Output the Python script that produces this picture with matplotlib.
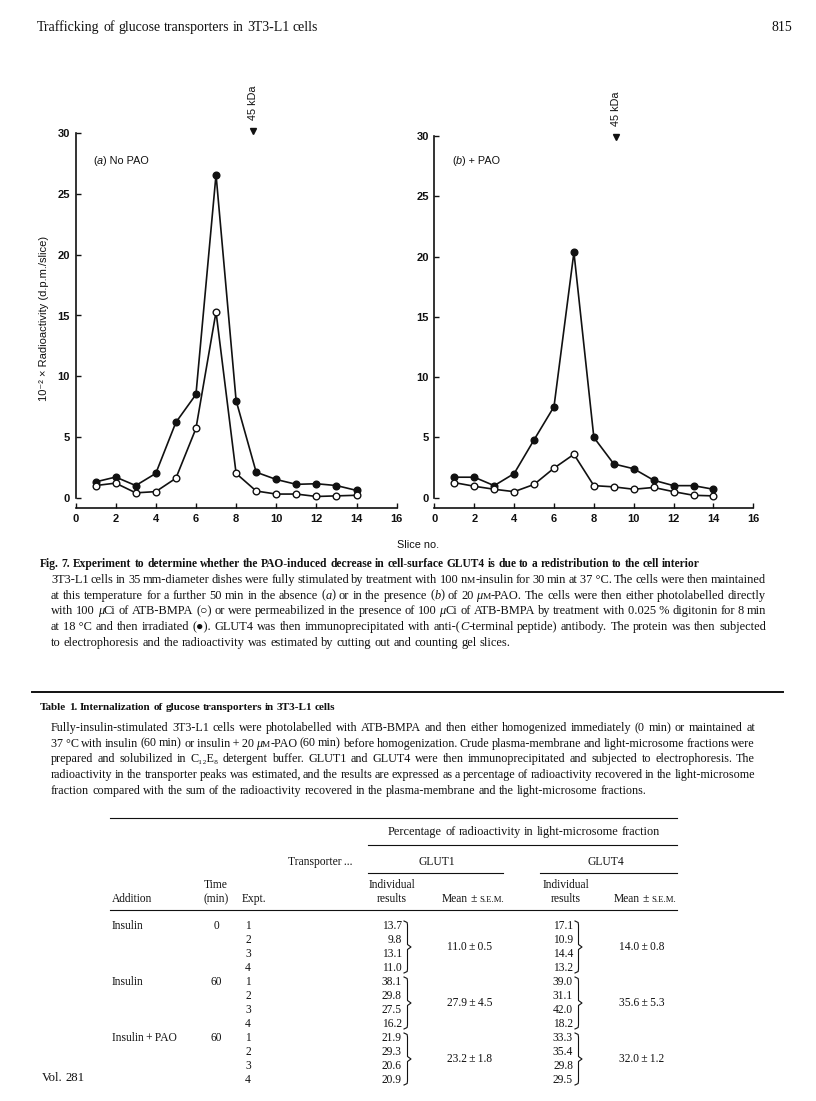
import matplotlib
matplotlib.use('Agg')
import matplotlib.pyplot as plt
from matplotlib.lines import Line2D

# ---------------- data ----------------
slices = list(range(1, 15))
a_permeabilized = [1.3, 1.7, 1.0, 2.0, 6.2, 8.5, 26.6, 8.0, 2.1, 1.5, 1.1, 1.15, 1.0, 0.6]
a_direct = [1.0, 1.2, 0.4, 0.5, 1.6, 5.7, 15.3, 2.0, 0.55, 0.3, 0.3, 0.1, 0.15, 0.2]
b_permeabilized = [1.7, 1.7, 1.0, 2.0, 4.8, 7.55, 20.35, 5.0, 2.8, 2.4, 1.45, 1.0, 1.0, 0.7]
b_direct = [1.25, 0.95, 0.7, 0.5, 1.1, 2.45, 3.6, 1.0, 0.9, 0.7, 0.85, 0.5, 0.2, 0.15]
kda45_x = [8.85, 9.1]

x_ticks = list(range(0, 17, 2))
y_ticks = list(range(0, 31, 5))

additions = ['Insulin', 'Insulin', 'Insulin\u2009+\u2009PAO']
times = ['0', '60', '60']
expts = ['1', '2', '3', '4']
glut1_ind = [[13.7, 9.8, 13.1, 11.0], [38.1, 29.8, 27.5, 16.2], [21.9, 29.3, 20.6, 20.9]]
glut1_mean = [(11.0, 0.5), (27.9, 4.5), (23.2, 1.8)]
glut4_ind = [[17.1, 10.9, 14.4, 13.2], [39.0, 31.1, 42.0, 18.2], [33.3, 35.4, 29.8, 29.5]]
glut4_mean = [(14.0, 0.8), (35.6, 5.3), (32.0, 1.2)]

header_left = 'Trafficking of glucose transporters in 3T3-L1 cells'
header_right = '815'
fig_title = ('Fig. 7. Experiment to determine whether the PAO-induced decrease in '
             'cell-surface GLUT4 is due to a redistribution to the cell interior')
fig_caption = [
    '3T3-L1 cells in 35 mm-diameter dishes were fully stimulated by treatment with 100 n^M^-insulin for 30 min at 37\u00a0°C. The cells were then maintained',
    'at this temperature for a further 50 min in the absence (*a*) or in the presence (*b*) of 20 *μ*^M^-PAO. The cells were then either photolabelled directly',
    'with 100 *μ*Ci of ATB-BMPA (○) or were permeabilized in the presence of 100 *μ*Ci of ATB-BMPA by treatment with 0.025\u00a0% digitonin for 8 min',
    'at 18\u00a0°C and then irradiated (●). GLUT4 was then immunoprecipitated with anti-(*C*-terminal peptide) antibody. The protein was then subjected',
    'to electrophoresis and the radioactivity was estimated by cutting out and counting gel slices.',
]
table_title = 'Table 1. Internalization of glucose transporters in 3T3-L1 cells'
table_caption = [
    'Fully-insulin-stimulated 3T3-L1 cells were photolabelled with ATB-BMPA and then either homogenized immediately (0 min) or maintained at',
    '37\u00a0°C with insulin (60 min) or insulin\u2009+\u200920 *μ*^M^-PAO (60 min) before homogenization. Crude plasma-membrane and light-microsome fractions were',
    'prepared and solubilized in C₁₂E₈ detergent buffer. GLUT1 and GLUT4 were then immunoprecipitated and subjected to electrophoresis. The',
    'radioactivity in the transporter peaks was estimated, and the results are expressed as a percentage of radioactivity recovered in the light-microsome',
    'fraction compared with the sum of the radioactivity recovered in the plasma-membrane and the light-microsome fractions.',
]
footer = 'Vol. 281'

# ---------------- setup ----------------
W, H = 816, 1101
SERIF = ['Liberation Serif', 'DejaVu Serif']
SANS = ['Liberation Sans', 'DejaVu Sans']
plt.rcParams['font.family'] = SANS
INK = '#111111'

fig = plt.figure(figsize=(W / 100, H / 100), dpi=100)
fig.patch.set_facecolor('white')
renderer = fig.canvas.get_renderer()


def fx(x):
    return x / W


def fy(y):
    return 1 - y / H


def text_w(s, **kw):
    t = fig.text(0, 0, s, **kw)
    w = t.get_window_extent(renderer).width
    t.remove()
    return w


def parse(s):
    words, cur, buf = [], [], ''
    it = sc = False
    for ch in s:
        if ch in '*^ ':
            if buf:
                cur.append((buf, it, sc))
                buf = ''
            if ch == '*':
                it = not it
            elif ch == '^':
                sc = not sc
            else:
                if cur:
                    words.append(cur)
                cur = []
        else:
            buf += ch
    if buf:
        cur.append((buf, it, sc))
    if cur:
        words.append(cur)
    return words


def props(it, sc, size, weight, family):
    return dict(family=family, style='italic' if it else 'normal',
                size=size * 0.76 if sc else size, weight=weight, color=INK)


def layout(s, size, weight='normal', family=SERIF):
    words = parse(s)
    out = []
    for w in words:
        runs = []
        for txt, it, sc in w:
            p = props(it, sc, size, weight, family)
            runs.append((txt, p, text_w(txt, **p)))
        out.append(runs)
    return out


def draw_line(x0, y, s, size, weight='normal', family=SERIF, x1=None, ha='left'):
    words = layout(s, size, weight, family)
    widths = [sum(r[2] for r in w) for w in words]
    p = props(False, False, size, weight, family)
    space = text_w('a a', **p) - text_w('aa', **p)
    n = len(words)
    if x1 is not None and n > 1:
        gap = (x1 - x0 - sum(widths)) / (n - 1)
    else:
        gap = space
    total = sum(widths) + gap * (n - 1)
    if ha == 'center':
        x0 = x0 - total / 2
    elif ha == 'right':
        x0 = x0 - total
    x = x0
    for w, ww in zip(words, widths):
        xx = x
        for txt, pp, tw in w:
            fig.text(fx(xx), fy(y), txt, ha='left', va='baseline', **pp)
            xx += tw
        x += ww + gap


def natural_w(s, size, weight='normal', family=SERIF):
    words = layout(s, size, weight, family)
    p = props(False, False, size, weight, family)
    space = text_w('a a', **p) - text_w('aa', **p)
    return sum(sum(r[2] for r in w) for w in words) + space * (len(words) - 1)


def fit(s, target, weight='normal', family=SERIF, base=10.0):
    return base * target / natural_w(s, base, weight, family)


def paragraph(lines, x0, x1, y0, dy):
    sizes = sorted(fit(l, x1 - x0) for l in lines[:-1])
    size = sum(sizes) / len(sizes)
    for i, l in enumerate(lines):
        last = i == len(lines) - 1
        draw_line(x0, y0 + i * dy, l, size, x1=None if last else x1)


def hline(x0, x1, y, lw=0.8):
    fig.add_artist(Line2D([fx(x0), fx(x1)], [fy(y), fy(y)], color=INK, lw=lw))


def brace(x, ytop, ybot, w=7):
    ym = (ytop + ybot) / 2
    xs = [x, x + w * 0.45, x + w * 0.5, x + w * 0.5, x + w, x + w * 0.5, x + w * 0.5, x + w * 0.45, x]
    ys = [ytop, ytop + 1.5, ytop + 4, ym - 2.5, ym, ym + 2.5, ybot - 4, ybot - 1.5, ybot]
    fig.add_artist(Line2D([fx(v) for v in xs], [fy(v) for v in ys], color=INK, lw=0.8))


# ---------------- header ----------------
hsize = fit(header_left, 280)
draw_line(37, 31, header_left, hsize)
draw_line(792, 31, header_right, hsize, ha='right')

# ---------------- chart ----------------
def panel(px, filled, opened, label, kx, kdy):
    x0, x1, yb, yt = px
    ax = fig.add_axes([fx(x0), fy(yb), (x1 - x0) / W, (yb - yt) / H])
    ax.patch.set_visible(False)
    ax.set_xlim(0, 16)
    ax.set_ylim(0, 30)
    ax.plot(slices, filled, '-o', color=INK, mfc=INK, mec=INK, ms=4.8, lw=1.2,
            clip_on=False, zorder=3)
    ax.plot(slices, opened, '-o', color=INK, mfc='white', mec=INK, ms=4.8, mew=1.0,
            lw=1.2, clip_on=False, zorder=4)
    for s in ['top', 'right']:
        ax.spines[s].set_visible(False)
    ax.spines['bottom'].set_position(('outward', 7.5))
    for s in ['left', 'bottom']:
        ax.spines[s].set_linewidth(1.2)
        ax.spines[s].set_color(INK)
    ax.set_xticks(x_ticks)
    ax.set_yticks(y_ticks)
    ax.tick_params(direction='in', length=3.5, width=1.0, labelsize=8, colors=INK)
    ax.tick_params(axis='y', pad=4)
    ax.tick_params(axis='x', pad=4.5)
    for lab in ax.get_xticklabels() + ax.get_yticklabels():
        lab.set_fontweight('bold')
    ax.plot([kx], [kdy], marker='v', color=INK, ms=5, clip_on=False)
    ax.text(kx, kdy + 0.9, '45 kDa', rotation=90, ha='center', va='bottom',
            size=7.8, color=INK)
    # panel label
    runs = [('(', 'normal'), (label[0], 'italic'), (label[1], 'normal')]
    xpx = x0 + 0.9 * (x1 - x0) / 16
    for txt, st in runs:
        fig.text(fx(xpx), fy(164.5), txt, style=st, size=7.8, color=INK,
                 ha='left', va='baseline', family=SANS)
        xpx += text_w(txt, style=st, size=7.8, family=SANS)
    return ax


panel((75.5, 396.7, 497.7, 133.3), a_permeabilized, a_direct, ('a', ') No PAO'), kda45_x[0], 30.2)
panel((434.4, 753.3, 497.7, 136.0), b_permeabilized, b_direct, ('b', ') + PAO'), kda45_x[1], 29.95)

ylab = '10⁻² × Radioactivity (d.p.m./slice)'
ys = 10 * 165 / text_w(ylab, size=10, family=SANS)
fig.text(fx(44), fy(318), ylab, rotation=90, ha='center', va='center', size=ys,
         family=SANS, color=INK)
fig.text(fx(418), fy(545), 'Slice no.', ha='center', va='center', size=7.8,
         family=SANS, color=INK)

# ---------------- figure caption ----------------
draw_line(40, 567, fig_title, fit(fig_title, 664, weight='bold'), weight='bold')
paragraph(fig_caption, 51, 766, 583, 15.7)
hline(32, 783, 692, lw=1.4)

# ---------------- table caption ----------------
draw_line(40, 710, table_title, fit(table_title, 298, weight='bold'), weight='bold')
paragraph(table_caption, 51, 755, 731, 15.7)

# ---------------- table ----------------
TS = 8.3
hline(110, 677, 818)
draw_line(524, 835, 'Percentage of radioactivity in light-microsome fraction', 8.8, ha='center')
hline(368, 677, 845)
draw_line(288, 865, 'Transporter\u2009...', TS)
draw_line(437, 865, 'GLUT1', TS, ha='center')
draw_line(606, 865, 'GLUT4', TS, ha='center')
hline(368, 503, 873)
hline(540, 677, 873)
draw_line(112, 902, 'Addition', TS)
draw_line(216, 888, 'Time', TS, ha='center')
draw_line(216, 902, '(min)', TS, ha='center')
draw_line(242, 902, 'Expt.', TS)
for cx in (392, 566):
    draw_line(cx, 888, 'Individual', TS, ha='center')
    draw_line(cx, 902, 'results', TS, ha='center')
draw_line(473, 902, 'Mean ± ^S.E.M.^', TS, ha='center')
draw_line(645, 902, 'Mean ± ^S.E.M.^', TS, ha='center')
hline(110, 677, 910)

row0, dr = 929, 14
for g in range(3):
    yg = row0 + g * 4 * dr
    draw_line(112, yg, additions[g], TS)
    draw_line(216, yg, times[g], TS, ha='center')
    for i in range(4):
        y = yg + i * dr
        draw_line(245, y, expts[i], TS)
        draw_line(402, y, f'{glut1_ind[g][i]:.1f}', TS, ha='right')
        draw_line(573, y, f'{glut4_ind[g][i]:.1f}', TS, ha='right')
    ymid = yg + 1.5 * dr
    brace(404, yg - 8, yg + 3 * dr + 2)
    brace(575, yg - 8, yg + 3 * dr + 2)
    m, e = glut1_mean[g]
    draw_line(470, ymid, f'{m:.1f}\u2009±\u2009{e:.1f}', TS, ha='center')
    m, e = glut4_mean[g]
    draw_line(642, ymid, f'{m:.1f}\u2009±\u2009{e:.1f}', TS, ha='center')

draw_line(42, 1081, footer, 9.2)

fig.savefig('out.png', dpi=100, facecolor='white')
